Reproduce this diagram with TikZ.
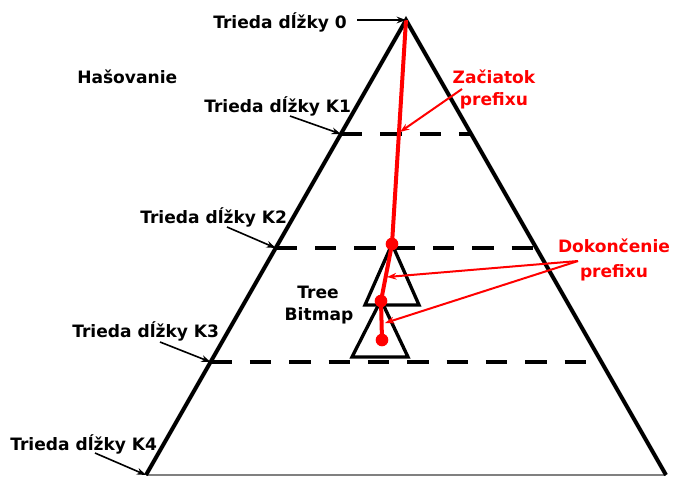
\documentclass[tikz,border=0pt]{standalone}
\usepackage{fontspec}
\setmainfont{DejaVu Sans}
\usetikzlibrary{arrows.meta}
\definecolor{pred}{RGB}{255,0,0}
\begin{document}
\begin{tikzpicture}[x=0.75pt,y=-0.75pt,
  lbl/.style={font=\bfseries\fontsize{12.8}{15}\selectfont, inner sep=0pt, anchor=base west},
  rlbl/.style={lbl, text=pred, anchor=base},
  side/.style={line width=3pt, line join=miter},
  level/.style={line width=2.4pt, dash pattern=on 16pt off 13.5pt},
  subtri/.style={line width=2.5pt, line join=miter},
  blkarrow/.style={line width=1.2pt, -{Stealth[length=7pt,width=5pt]}},
  redarrow/.style={pred, line width=1.5pt, -{Stealth[length=7pt,width=5pt]}},
  redpath/.style={pred, line width=3pt},
  dot/.style={circle, fill=pred, inner sep=0pt, minimum size=9.5pt}]
\useasboundingbox (0,0) rectangle (674,476);

% main triangle
\coordinate (apex) at (406,20);
\coordinate (bl) at (146,475);
\coordinate (br) at (666,475);
\coordinate (l1) at (340.9,134); \coordinate (r1) at (471.1,134);
\coordinate (l2) at (275.7,248); \coordinate (r2) at (536.3,248);
\coordinate (l3) at (210.6,362); \coordinate (r3) at (601.4,362);

\draw[gray, line width=0.8pt] (bl) -- (br);
\draw[level] (l1) -- (r1);
\draw[level] (l2) -- (r2);
\draw[level] (l3) -- (r3);
\draw[side] (bl) -- (apex) -- (br);

% tree bitmap sub-triangles
\coordinate (t1a) at (392,244); \coordinate (t1l) at (365,305); \coordinate (t1r) at (419,305);
\coordinate (t2a) at (381,300); \coordinate (t2l) at (352,357); \coordinate (t2r) at (408,357);
\draw[subtri] (t1a) -- (t1l) -- (t1r) -- cycle;
\draw[subtri] (t2a) -- (t2l) -- (t2r) -- cycle;

% red prefix path
\node[dot] (d1) at (392,244) {};
\node[dot] (d2) at (381,301) {};
\node[dot] (d3) at (382,340) {};
\draw[redpath] (apex) -- (d1.center) -- (d2.center) -- (d3.center);

% labels
\node[lbl] (n0) at (213,28) {Trieda dĺžky 0};
\node[lbl] (hash) at (77,83) {Hašovanie};
\node[lbl] (k1) at (204,112) {Trieda dĺžky K1};
\node[lbl] (k2) at (140,223) {Trieda dĺžky K2};
\node[lbl] (k3) at (72,337) {Trieda dĺžky K3};
\node[lbl] (k4) at (10,450) {Trieda dĺžky K4};
\node[lbl, anchor=base] (tb1) at (318,298) {Tree};
\node[lbl, anchor=base] (tb2) at (319,320) {Bitmap};
\node[rlbl] (za1) at (494,83) {Začiatok};
\node[rlbl] (za2) at (494,105) {prefixu};
\node[rlbl] (do1) at (614,252) {Dokončenie};
\node[rlbl] (do2) at (614,277) {prefixu};

% black arrows
\coordinate (s0) at (357,20);
\coordinate (s1) at (290,116);
\coordinate (s2) at (227,227);
\coordinate (s3) at (160,342);
\coordinate (s4) at (95,453);
\draw[blkarrow] (s0) -- (apex);
\draw[blkarrow] (s1) -- (l1);
\draw[blkarrow] (s2) -- (l2);
\draw[blkarrow] (s3) -- (l3);
\draw[blkarrow] (s4) -- (bl);

% red arrows
\coordinate (zs) at (462,89);
\coordinate (ze) at (400,132);
\coordinate (ds) at (578,261);
\coordinate (de1) at (387,277);
\coordinate (de2) at (385,323);
\draw[redarrow] (zs) -- (ze);
\draw[redarrow] (ds) -- (de1);
\draw[redarrow] (ds) -- (de2);
\end{tikzpicture}
\end{document}
